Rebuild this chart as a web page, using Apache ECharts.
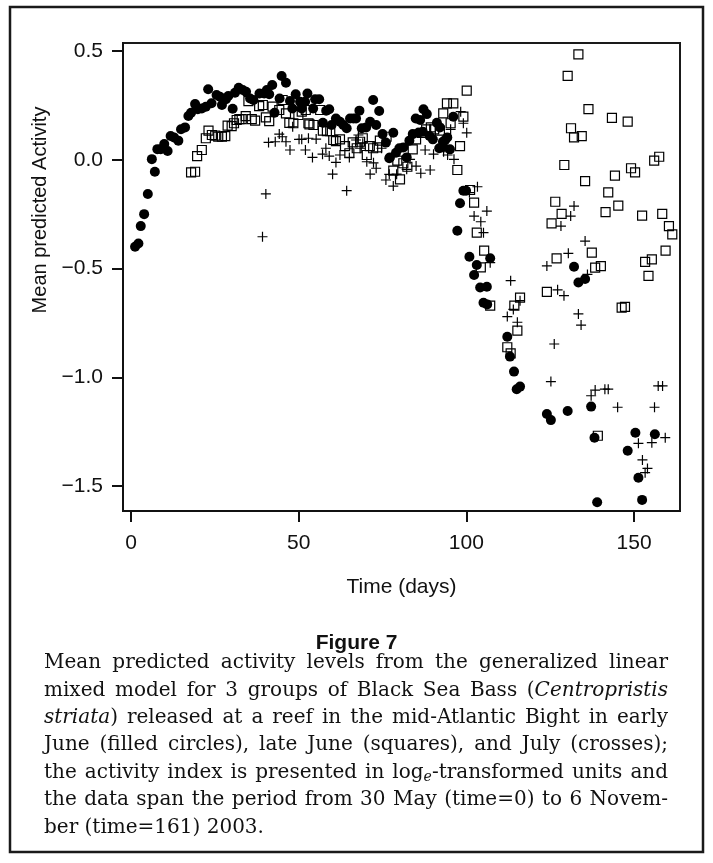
<!DOCTYPE html>
<html><head><meta charset="utf-8">
<script src="https://cdn.jsdelivr.net/npm/echarts@6/dist/echarts.min.js"></script>
<style>html,body{margin:0;padding:0;background:#fff}#c{width:713px;height:863px}</style>
</head><body><div id="c"></div>
<script>
// ---- data (day, mean predicted activity) ----
const earlyJune = [
[1.2,-0.40],[2.2,-0.385],[2.9,-0.305],[3.9,-0.25],[5.0,-0.157],[6.2,0.003],[7.1,-0.055],[7.85,0.049],[8.85,0.049],[9.9,0.072],
[10.9,0.040],[11.8,0.109],[12.8,0.103],[14.1,0.088],[14.9,0.14],[16.1,0.149],[17.1,0.201],[17.9,0.216],[19.1,0.256],[19.9,0.232],
[21.1,0.236],[22.3,0.244],[23.0,0.324],[24.0,0.26],[25.5,0.298],[26.5,0.29],[27.1,0.252],[28.3,0.278],[29.0,0.293],[30.3,0.235],
[31.0,0.308],[32.1,0.331],[33.3,0.321],[34.3,0.313],[35.5,0.282],[36.5,0.275],[38.3,0.305],[39.7,0.305],[40.5,0.321],[41.2,0.301],
[42.1,0.344],[42.8,0.216],[44.3,0.282],[44.9,0.385],[46.2,0.354],[47.4,0.27],[48.1,0.236],[49.1,0.301],[50.4,0.267],[50.9,0.236],
[51.2,0.26],[51.9,0.267],[52.6,0.305],[54.3,0.236],[54.9,0.278],[56.1,0.278],[57.2,0.17],[58.2,0.226],[59.1,0.232],[59.8,0.16],
[61.1,0.19],[62.3,0.175],[63.3,0.16],[64.3,0.145],[65.3,0.19],[66.3,0.19],[67.1,0.19],[68.1,0.226],[68.8,0.145],[70.1,0.149],
[71.3,0.175],[72.2,0.275],[73.1,0.16],[74.0,0.224],[75.0,0.118],[76.0,0.079],[77.0,0.007],[77.2,0.011],[78.2,0.124],[79.0,0.032],
[80.0,0.053],[81.2,0.057],[82.2,0.011],[83.0,0.088],[84.0,0.118],[84.9,0.19],[85.7,0.124],[86.2,0.183],[87.0,0.129],[87.2,0.232],
[88.2,0.21],[89.0,0.109],[90.0,0.094],[91.2,0.17],[91.9,0.053],[92.1,0.149],[93.0,0.083],[93.1,0.06],[93.7,0.091],[94.3,0.103],
[95.1,0.048],[96.1,0.198],[97.3,-0.326],[98.1,-0.2],[99.1,-0.142],[99.9,-0.142],[100.9,-0.446],[102.3,-0.53],[103.1,-0.484],[104.1,-0.587],
[105.1,-0.657],[106.1,-0.584],[106.2,-0.665],[107.1,-0.453],[112.2,-0.814],[113.0,-0.905],[114.2,-0.974],[115.0,-1.055],[116.0,-1.043],[124.0,-1.169],
[125.2,-1.197],[130.2,-1.155],[132.1,-0.492],[133.4,-0.564],[135.4,-0.548],[137.2,-1.135],[138.2,-1.278],[139.0,-1.575],[148.1,-1.338],[150.4,-1.255],
[151.3,-1.462],[152.4,-1.564],[156.2,-1.262]
];
const lateJune = [
[17.9,-0.058],[19.1,-0.055],[19.7,0.017],[21.1,0.045],[22.3,0.099],[23.1,0.134],[24.1,0.114],[25.1,0.111],[26.0,0.106],[27.1,0.106],
[28.1,0.109],[28.8,0.157],[30.0,0.155],[30.7,0.168],[31.5,0.183],[32.3,0.187],[33.0,0.187],[34.2,0.201],[35.0,0.27],[36.0,0.187],
[37.0,0.18],[38.2,0.247],[39.3,0.252],[40.2,0.195],[41.2,0.178],[42.2,0.244],[44.2,0.229],[45.2,0.275],[46.2,0.213],[47.2,0.17],
[48.4,0.168],[49.9,0.206],[50.9,0.221],[52.1,0.229],[52.9,0.168],[53.2,0.163],[54.4,0.16],[56.4,0.229],[57.2,0.134],[58.4,0.132],
[59.4,0.132],[60.3,0.091],[61.1,0.086],[62.3,0.094],[63.8,0.063],[65.1,0.03],[66.1,0.08],[67.3,0.053],[68.3,0.083],[69.1,0.099],
[70.3,0.022],[71.2,0.063],[72.2,0.053],[73.4,0.057],[74.2,0.088],[76.2,0.106],[78.2,-0.05],[79.4,-0.004],[80.2,-0.09],[81.2,-0.016],
[82.4,-0.032],[84.0,0.048],[85.0,0.094],[86.7,0.124],[88.0,0.14],[89.4,0.149],[90.4,0.14],[92.1,0.134],[93.1,0.213],[94.2,0.259],
[95.3,0.168],[96.1,0.259],[97.3,-0.047],[98.1,0.063],[99.1,0.198],[100.1,0.318],[101.1,-0.139],[102.3,-0.197],[103.1,-0.335],[104.3,-0.495],
[105.3,-0.418],[107.1,-0.671],[112.2,-0.862],[113.2,-0.89],[114.3,-0.671],[115.2,-0.786],[116.0,-0.634],[124.0,-0.607],[125.4,-0.292],[126.5,-0.193],
[126.9,-0.453],[128.4,-0.249],[129.2,-0.024],[130.2,0.386],[131.2,0.145],[132.1,0.103],[133.4,0.485],[134.4,0.109],[135.4,-0.098],[136.4,0.233],
[137.4,-0.427],[138.4,-0.496],[139.2,-1.269],[140.1,-0.489],[141.5,-0.241],[142.3,-0.15],[143.4,0.193],[144.3,-0.073],[145.3,-0.211],[146.3,-0.68],
[147.3,-0.676],[148.1,0.175],[149.1,-0.039],[150.3,-0.058],[152.4,-0.257],[153.3,-0.469],[154.3,-0.534],[155.3,-0.458],[156.0,-0.004],[157.5,0.014],
[158.4,-0.249],[159.4,-0.418],[160.4,-0.305],[161.4,-0.343]
];
const july = [
[39.2,-0.354],[40.2,-0.157],[41.0,0.08],[43.0,0.083],[44.2,0.118],[45.1,0.106],[46.2,0.083],[47.4,0.045],[48.2,0.152],[50.1,0.094],
[50.9,0.094],[52.0,0.045],[52.9,0.099],[54.1,0.011],[55.2,0.095],[57.1,0.026],[58.1,0.053],[59.1,0.017],[60.1,-0.066],[61.1,-0.012],
[62.3,0.022],[64.3,-0.142],[65.1,0.011],[67.1,0.091],[67.8,0.114],[68.3,0.053],[69.1,0.076],[70.3,-0.009],[71.3,-0.066],[72.3,-0.014],
[73.1,-0.039],[74.7,0.053],[76.0,-0.093],[77.0,-0.067],[78.2,-0.121],[79.2,-0.066],[82.2,-0.044],[83.2,0.002],[85.0,-0.029],[86.4,-0.062],
[87.7,0.045],[89.2,-0.047],[90.2,0.026],[93.2,0.037],[94.4,0.022],[95.3,0.14],[96.3,0.002],[98.3,0.221],[99.1,0.168],[100.1,0.124],
[100.9,-0.151],[102.3,-0.259],[103.3,-0.124],[104.3,-0.285],[105.1,-0.335],[106.1,-0.236],[107.1,-0.473],[112.2,-0.721],[113.2,-0.556],[114.0,-0.688],
[115.2,-0.747],[116.0,-0.648],[124.0,-0.488],[125.2,-1.02],[126.2,-0.847],[127.2,-0.598],[128.2,-0.305],[129.1,-0.625],[130.4,-0.43],[131.1,-0.259],
[132.1,-0.213],[133.4,-0.709],[134.2,-0.76],[135.4,-0.374],[136.1,-0.527],[137.2,-1.085],[138.4,-1.059],[141.3,-1.055],[142.3,-1.055],[145.1,-1.138],
[151.3,-1.304],[152.5,-1.38],[153.3,-1.439],[154.0,-1.419],[155.3,-1.301],[156.1,-1.138],[157.2,-1.04],[158.5,-1.04],[159.3,-1.278]
];
const xTicks = [0, 50, 100, 150];
const yTicks = [-1.5, -1.0, -0.5, 0.0, 0.5];
const xTitle = 'Time (days)';
const yTitle = 'Mean predicted Activity';
const figTitle = 'Figure 7';
const captionLines = [
 'Mean predicted activity levels from the generalized linear',
 'mixed model for 3 groups of Black Sea Bass (*Centropristis*',
 '*striata*) released at a reef in the mid-Atlantic Bight in early',
 'June (filled circles), late June (squares), and July (crosses);',
 'the activity index is presented in log_e-transformed units and',
 'the data span the period from 30 May (time=0) to 6 Novem-',
 'ber (time=161) 2003.'
];

// ---- layout ----
const SANS = '"Liberation Sans", Arial, Helvetica, sans-serif';
const SERIF = '"DejaVu Serif", serif';
const capSize = 20;
const capLeft = 44, capRight = 668, capTop = 663, capStep = 27.4;

const mctx = document.createElement('canvas').getContext('2d');
function tw(t, font){ mctx.font = font; return mctx.measureText(t).width; }
function fontFor(kind){
  if (kind === 'i') return 'italic ' + capSize + 'px ' + SERIF;
  if (kind === 's') return 'italic ' + Math.round(capSize*0.68) + 'px ' + SERIF;
  return capSize + 'px ' + SERIF;
}
function parseWord(w){
  const segs = [];
  const re = /(\*[^*]+\*|_e)/g;
  let last = 0, m;
  while ((m = re.exec(w))){
    if (m.index > last) segs.push({t: w.slice(last, m.index), k: 'n'});
    if (m[0] === '_e') segs.push({t: 'e', k: 's'});
    else segs.push({t: m[0].slice(1, -1), k: 'i'});
    last = m.index + m[0].length;
  }
  if (last < w.length) segs.push({t: w.slice(last), k: 'n'});
  segs.forEach(s => s.w = tw(s.t, fontFor(s.k)));
  return segs;
}
const graphics = [];
graphics.push({type:'rect', shape:{x:10, y:7, width:693, height:845}, style:{fill:'none', stroke:'#1a1a1a', lineWidth:2.5}, z:10});
graphics.push({type:'text', x:356.5, y:643, style:{text:figTitle, font:'bold 21px ' + SANS, fill:'#111', align:'center', verticalAlign:'middle', textAlign:'center', textVerticalAlign:'middle'}});
graphics.push({type:'text', x:40, y:210, rotation:Math.PI/2, style:{text:yTitle, font:'20px ' + SANS, fill:'#111', align:'center', verticalAlign:'middle', textAlign:'center', textVerticalAlign:'middle'}});
const spaceW = tw(' ', fontFor('n'));
captionLines.forEach((line, li) => {
  const words = line.split(' ').map(parseWord);
  const widths = words.map(ws => ws.reduce((a, s) => a + s.w, 0));
  const total = widths.reduce((a, b) => a + b, 0);
  const last = li === captionLines.length - 1;
  const gap = last ? spaceW : (capRight - capLeft - total) / (words.length - 1);
  let x = capLeft;
  const y = capTop + li * capStep;
  words.forEach((ws, wi) => {
    ws.forEach(s => {
      graphics.push({type:'text', x: x, y: y + (s.k === 's' ? 5 : 0), style:{text:s.t, font:fontFor(s.k), fill:'#111', align:'left', verticalAlign:'middle', textAlign:'left', textVerticalAlign:'middle'}});
      x += s.w;
    });
    x += gap;
  });
});

const fmtY = v => (v < 0 ? '\u2212' : '') + Math.abs(v).toFixed(1);
const axisCommon = {
  axisLine: {show:true, onZero:false, lineStyle:{color:'#111', width:2}},
  splitLine: {show:false},
  axisTick: {show:true, inside:false, length:11, lineStyle:{color:'#111', width:2}},
};

const chart = echarts.init(document.getElementById('c'), null, {renderer:'canvas'});
chart.setOption({
  animation: false,
  backgroundColor: '#fff',
  grid: {left:123, right:33, top:43, bottom:352, show:true, borderColor:'#1a1a1a', borderWidth:2, backgroundColor:'#fff'},
  xAxis: Object.assign({}, axisCommon, {
    type:'value', min:-2.4, max:163.7,
    name:xTitle, nameLocation:'middle', nameGap:66, nameTextStyle:{fontSize:21, fontFamily:SANS, color:'#111'},
    axisTick: Object.assign({}, axisCommon.axisTick, {customValues: xTicks}),
    axisLabel: {customValues: xTicks, fontSize:21, fontFamily:SANS, color:'#111', margin:22}
  }),
  yAxis: Object.assign({}, axisCommon, {
    type:'value', min:-1.615, max:0.537,
    axisTick: Object.assign({}, axisCommon.axisTick, {customValues: yTicks}),
    axisLabel: {customValues: yTicks, fontSize:21, fontFamily:SANS, color:'#111', margin:20, formatter: fmtY}
  }),
  graphic: graphics,
  series: [
    {type:'scatter', name:'early June', data: earlyJune, symbol:'circle', symbolSize:10, itemStyle:{color:'#000', opacity:1}, z:2},
    {type:'scatter', name:'late June', data: lateJune, symbol:'rect', symbolSize:9, itemStyle:{color:'rgba(0,0,0,0)', borderColor:'#000', borderWidth:1.2, opacity:1}, z:3},
    {type:'scatter', name:'July', data: july, symbol:'path://M4.4,0H5.6V4.4H10V5.6H5.6V10H4.4V5.6H0V4.4H4.4Z', symbolSize:10, itemStyle:{color:'#000', opacity:1}, z:4}
  ]
});
</script>
</body></html>
